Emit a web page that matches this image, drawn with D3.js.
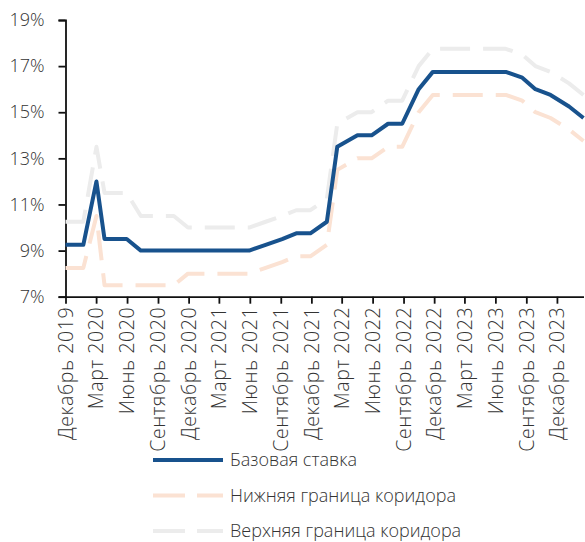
<!DOCTYPE html>
<html>
<head>
<meta charset="utf-8">
<script src="https://cdn.jsdelivr.net/npm/d3@7"></script>
<style>
  body { margin: 0; background: #fff; }
  svg text { font-family: 'Open Sans', 'Noto Sans', sans-serif; font-weight: 300; fill: #333; }
</style>
</head>
<body>
<svg id="chart"></svg>
<script>
var width = 585;
var height = 542;
var margin = { top: 20, left: 65.5, right: 1.5, bottom: 245.3 };

// decision dates
var dates = ['2019-12-09', '2020-01-31', '2020-03-10', '2020-04-03', '2020-06-08', '2020-07-20',
  '2020-09-07', '2020-10-26', '2020-12-07', '2021-01-25', '2021-03-09', '2021-04-26', '2021-06-07',
  '2021-07-26', '2021-09-13', '2021-10-25', '2021-12-06', '2022-01-24', '2022-02-24', '2022-04-25',
  '2022-06-06', '2022-07-25', '2022-09-05', '2022-10-24', '2022-12-05', '2023-01-23', '2023-03-06',
  '2023-04-17', '2023-06-05', '2023-07-10', '2023-08-28', '2023-10-06', '2023-11-20', '2024-01-14',
  '2024-02-26'];
var baseRate = [9.25, 9.25, 12, 9.5, 9.5, 9, 9, 9, 9, 9, 9, 9, 9, 9.25, 9.5, 9.75, 9.75, 10.25, 13.5, 14,
  14, 14.5, 14.5, 16, 16.75, 16.75, 16.75, 16.75, 16.75, 16.75, 16.5, 16, 15.75, 15.25, 14.75];
var lowerBound = [8.25, 8.25, 10.5, 7.5, 7.5, 7.5, 7.5, 7.5, 8, 8, 8, 8, 8, 8.25, 8.5, 8.75, 8.75, 9.25, 12.5, 13,
  13, 13.5, 13.5, 15, 15.75, 15.75, 15.75, 15.75, 15.75, 15.75, 15.5, 15, 14.75, 14.25, 13.75];
var upperBound = [10.25, 10.25, 13.5, 11.5, 11.5, 10.5, 10.5, 10.5, 10, 10, 10, 10, 10, 10.25, 10.5, 10.75, 10.75, 11.25, 14.5, 15,
  15, 15.5, 15.5, 17, 17.75, 17.75, 17.75, 17.75, 17.75, 17.75, 17.5, 17, 16.75, 16.25, 15.75];
var yTicks = [7, 9, 11, 13, 15, 17, 19];
var xTickLabels = ['Декабрь 2019', 'Март 2020', 'Июнь 2020', 'Сентябрь 2020', 'Декабрь 2020',
  'Март 2021', 'Июнь 2021', 'Сентябрь 2021', 'Декабрь 2021', 'Март 2022', 'Июнь 2022',
  'Сентябрь 2022', 'Декабрь 2022', 'Март 2023', 'Июнь 2023', 'Сентябрь 2023', 'Декабрь 2023'];
var seriesNames = ['Базовая ставка', 'Нижняя граница коридора', 'Верхняя граница коридора'];
var seriesColors = ['#18528d', '#fbe2d3', '#ececec'];

var parse = d3.timeParse('%Y-%m-%d');
var times = dates.map(parse);
var series = [baseRate, lowerBound, upperBound].map(function(vals, i) {
  return {
    name: seriesNames[i],
    color: seriesColors[i],
    dashed: i > 0,
    points: vals.map(function(v, j) { return { time: times[j], value: v }; })
  };
});

var svg = d3.select('#chart').attr('width', width).attr('height', height);

var x = d3.scaleTime()
  .domain([times[0], times[times.length - 1]])
  .range([margin.left, width - margin.right]);
var y = d3.scaleLinear()
  .domain([7, 19])
  .range([height - margin.bottom, margin.top]);

var tickTimes = xTickLabels.map(function(d, i) { return d3.timeMonth.offset(times[0], i * 3); });

// y axis
var yAxis = svg.append('g')
  .attr('transform', 'translate(' + margin.left + ',0)')
  .call(d3.axisLeft(y).tickValues(yTicks).tickSize(7).tickPadding(14)
    .tickFormat(function(d) { return d + '%'; }));
yAxis.selectAll('text').style('font-size', '18px');

// lines: upper, lower first, base on top
var line = d3.line()
  .x(function(d) { return x(d.time); })
  .y(function(d) { return y(d.value); });

svg.selectAll('.series')
  .data(series.slice().reverse())
  .enter()
  .append('path')
  .classed('series', true)
  .attr('d', function(d) { return line(d.points); })
  .attr('fill', 'none')
  .attr('stroke', function(d) { return d.color; })
  .attr('stroke-width', 4)
  .attr('stroke-linejoin', 'round')
  .attr('stroke-dasharray', function(d) { return d.dashed ? '30,13' : null; });

// x axis
var xAxis = svg.append('g')
  .attr('transform', 'translate(0,' + y(7) + ')')
  .call(d3.axisBottom(x).tickValues(tickTimes).tickSize(7).tickSizeOuter(0)
    .tickFormat(function(d, i) { return xTickLabels[i]; }));
xAxis.selectAll('text')
  .style('font-size', '19.5px')
  .style('letter-spacing', '0.6px')
  .style('text-anchor', 'end')
  .attr('transform', 'rotate(-90)')
  .attr('x', -10)
  .attr('y', 0)
  .attr('dy', '0.35em');

svg.selectAll('.domain, .tick line')
  .attr('stroke', '#111')
  .attr('stroke-width', 1.8);

// legend
var legend = svg.append('g').selectAll('.legend-item')
  .data(series)
  .enter()
  .append('g')
  .classed('legend-item', true)
  .attr('transform', function(d, i) { return 'translate(153,' + (460 + i * 35.5) + ')'; });
legend.append('line')
  .attr('x1', 0)
  .attr('x2', 70)
  .attr('stroke', function(d) { return d.color; })
  .attr('stroke-width', 4)
  .attr('stroke-dasharray', function(d) { return d.dashed ? '32,12' : null; });
legend.append('text')
  .attr('x', 77)
  .attr('dy', '0.35em')
  .style('font-size', '18px')
  .text(function(d) { return d.name; });
</script>
</body>
</html>
